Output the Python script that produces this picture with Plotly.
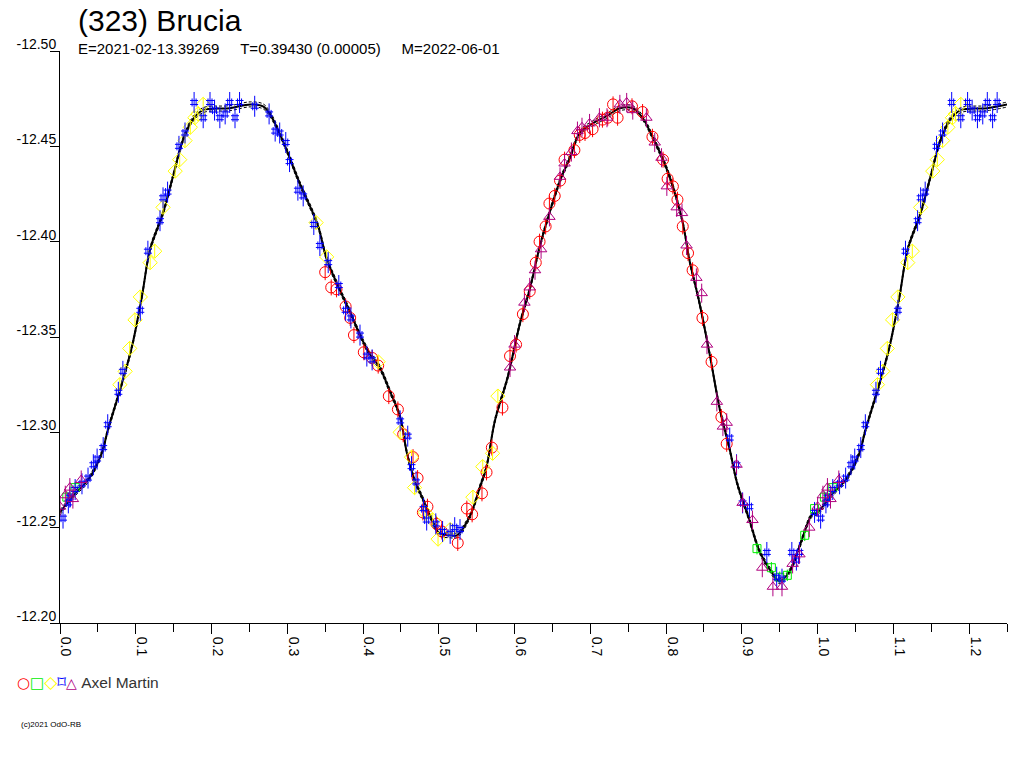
import plotly.graph_objects as go

# ---- data (phase, reduced magnitude) ----
curve_phase = [0.000, 0.020, 0.037, 0.055, 0.063, 0.082, 0.095, 0.108, 0.119, 0.136, 0.149, 0.162,
               0.175, 0.189, 0.224, 0.251, 0.268, 0.277, 0.294, 0.317, 0.340, 0.352, 0.369, 0.383,
               0.396, 0.409, 0.422, 0.435, 0.449, 0.458, 0.468, 0.479, 0.491, 0.501, 0.515, 0.524,
               0.541, 0.554, 0.563, 0.574, 0.591, 0.607, 0.620, 0.633, 0.646, 0.660, 0.673, 0.686,
               0.703, 0.722, 0.739, 0.756, 0.769, 0.782, 0.796, 0.809, 0.822, 0.831, 0.844, 0.858,
               0.871, 0.884, 0.894, 0.910, 0.923, 0.937, 0.950, 0.963, 0.976, 0.993]
curve_mag = [-12.258, -12.268, -12.275, -12.289, -12.301, -12.326, -12.345, -12.371, -12.396, -12.415,
             -12.434, -12.453, -12.464, -12.469, -12.470, -12.472, -12.471, -12.467, -12.453, -12.430,
             -12.409, -12.391, -12.375, -12.363, -12.351, -12.341, -12.334, -12.322, -12.308, -12.289,
             -12.275, -12.265, -12.254, -12.247, -12.246, -12.246, -12.256, -12.271, -12.282, -12.306,
             -12.329, -12.357, -12.375, -12.397, -12.415, -12.432, -12.444, -12.457, -12.462, -12.466,
             -12.470, -12.470, -12.465, -12.455, -12.443, -12.429, -12.410, -12.390, -12.368, -12.340,
             -12.312, -12.291, -12.273, -12.254, -12.238, -12.228, -12.222, -12.227, -12.240, -12.257]
fit_err = 0.0013

red_phase = [0.350, 0.358, 0.365, 0.377, 0.383, 0.388, 0.401, 0.412, 0.420, 0.434, 0.446, 0.453,
             0.466, 0.472, 0.479, 0.485, 0.497, 0.504, 0.525, 0.537, 0.544, 0.557, 0.563, 0.570,
             0.584, 0.594, 0.602, 0.611, 0.620, 0.628, 0.633, 0.641, 0.646, 0.653, 0.660, 0.666,
             0.679, 0.686, 0.693, 0.703, 0.716, 0.723, 0.730, 0.736, 0.755, 0.769, 0.782, 0.796,
             0.802, 0.809, 0.815, 0.822, 0.829, 0.835, 0.848, 0.860, 0.873, 0.880]
red_mag = [-12.384, -12.376, -12.375, -12.366, -12.360, -12.351, -12.342, -12.339, -12.335, -12.319,
           -12.312, -12.299, -12.287, -12.276, -12.258, -12.261, -12.252, -12.248, -12.242, -12.260,
           -12.257, -12.268, -12.279, -12.292, -12.313, -12.340, -12.346, -12.362, -12.374, -12.389,
           -12.400, -12.408, -12.420, -12.424, -12.432, -12.443, -12.448, -12.456, -12.457, -12.459,
           -12.464, -12.465, -12.472, -12.465, -12.471, -12.468, -12.455, -12.443, -12.433, -12.429,
           -12.422, -12.408, -12.394, -12.385, -12.360, -12.337, -12.308, -12.294]

green_phase = [0.009, 0.020, 0.920, 0.939, 0.950, 0.960, 0.983, 0.996]
green_mag = [-12.266, -12.271, -12.239, -12.229, -12.224, -12.225, -12.246, -12.260]

yellow_phase = [0.079, 0.086, 0.092, 0.099, 0.106, 0.119, 0.125, 0.136, 0.152, 0.158, 0.165, 0.172,
                0.178, 0.182, 0.189, 0.338, 0.352, 0.420, 0.449, 0.464, 0.468, 0.482, 0.492, 0.499,
                0.515, 0.545, 0.558, 0.571, 0.578]
yellow_mag = [-12.325, -12.332, -12.344, -12.359, -12.371, -12.389, -12.395, -12.418, -12.437, -12.443,
              -12.453, -12.460, -12.465, -12.467, -12.472, -12.410, -12.392, -12.337, -12.300, -12.287,
              -12.271, -12.258, -12.254, -12.244, -12.249, -12.266, -12.282, -12.289, -12.319]

blue_phase = [0.004, 0.011, 0.013, 0.020, 0.029, 0.037, 0.044, 0.049, 0.057, 0.063, 0.077, 0.083,
              0.106, 0.116, 0.132, 0.136, 0.142, 0.157, 0.165, 0.177, 0.189, 0.198, 0.204, 0.211,
              0.218, 0.224, 0.231, 0.237, 0.257, 0.276, 0.284, 0.290, 0.298, 0.303, 0.314, 0.321,
              0.335, 0.343, 0.354, 0.368, 0.377, 0.384, 0.396, 0.405, 0.412, 0.449, 0.459, 0.464,
              0.470, 0.480, 0.484, 0.496, 0.505, 0.515, 0.521, 0.528, 0.884, 0.893, 0.901, 0.910,
              0.933, 0.946, 0.953, 0.966, 0.972, 0.976, 0.996]
blue_mag = [-12.255, -12.263, -12.266, -12.270, -12.273, -12.276, -12.283, -12.286, -12.292, -12.304,
            -12.321, -12.332, -12.364, -12.395, -12.411, -12.423, -12.426, -12.450, -12.457, -12.473,
            -12.465, -12.473, -12.469, -12.465, -12.467, -12.473, -12.465, -12.473, -12.471, -12.467,
            -12.458, -12.457, -12.452, -12.442, -12.427, -12.424, -12.409, -12.398, -12.389, -12.377,
            -12.364, -12.360, -12.351, -12.340, -12.338, -12.306, -12.298, -12.282, -12.274, -12.260,
            -12.254, -12.252, -12.248, -12.247, -12.250, -12.249, -12.297, -12.283, -12.263, -12.261,
            -12.237, -12.224, -12.223, -12.237, -12.233, -12.237, -12.258]

purple_phase = [0.000, 0.007, 0.013, 0.017, 0.028, 0.594, 0.600, 0.613, 0.620, 0.627, 0.635, 0.646,
                0.660, 0.666, 0.675, 0.683, 0.689, 0.699, 0.712, 0.722, 0.739, 0.748, 0.756, 0.774,
                0.785, 0.794, 0.801, 0.814, 0.821, 0.827, 0.840, 0.847, 0.854, 0.867, 0.875, 0.880,
                0.893, 0.901, 0.914, 0.927, 0.941, 0.953, 0.967, 0.976, 0.989]
purple_mag = [-12.261, -12.267, -12.271, -12.265, -12.275, -12.334, -12.346, -12.368, -12.376, -12.385,
              -12.396, -12.413, -12.434, -12.441, -12.447, -12.458, -12.460, -12.462, -12.465, -12.465,
              -12.472, -12.473, -12.469, -12.465, -12.452, -12.444, -12.429, -12.418, -12.415, -12.398,
              -12.381, -12.373, -12.346, -12.316, -12.303, -12.305, -12.283, -12.263, -12.254, -12.229,
              -12.219, -12.219, -12.231, -12.236, -12.250]

y_ticks = [-12.50, -12.45, -12.40, -12.35, -12.30, -12.25, -12.20]
y_ticktext = ["-12.50", "-12.45", "-12.40", "-12.35", "-12.30", "-12.25", "-12.20"]

title_text = "(323) Brucia"
sub_text = "E=2021-02-13.39269\u00a0\u00a0\u00a0\u00a0\u00a0T=0.39430 (0.00005)\u00a0\u00a0\u00a0\u00a0\u00a0M=2022-06-01"
observer = "Axel Martin"
copyright_text = "(c)2021 OdO-RB"

legend_symbols = ["○", "□", "◇", "⌑", "△"]
legend_colors = ["#FF0000", "#00EE00", "#FFFF00", "#0000FF", "#B0007F"]

WRAP = 0.26  # phases repeated beyond 1.0


def extend(ph, mg):
    xs = list(ph) + [p + 1 for p in ph if p <= WRAP]
    ys = list(mg) + [m for p, m in zip(ph, mg) if p <= WRAP]
    return xs, ys


fig = go.Figure()

cx, cy = extend(curve_phase, curve_mag)
for off in (fit_err, -fit_err):
    fig.add_trace(go.Scatter(x=cx, y=[v + off for v in cy], mode="lines",
                             line=dict(color="black", width=1, dash="3px,2px", shape="spline"),
                             showlegend=False, hoverinfo="skip"))
fig.add_trace(go.Scatter(x=cx, y=cy, mode="lines",
                         line=dict(color="black", width=2, shape="spline"),
                         showlegend=False, hoverinfo="skip"))

series = [
    (red_phase, red_mag, "circle-open", legend_colors[0], 11, 0.0042),
    (green_phase, green_mag, "square-open", legend_colors[1], 8, 0.003),
    (yellow_phase, yellow_mag, "diamond-open", legend_colors[2], 11, 0.0035),
    (blue_phase, blue_mag, "hash-open", legend_colors[3], 8, 0.0055),
    (purple_phase, purple_mag, "triangle-up-open", legend_colors[4], 10, 0.005),
]
for ph, mg, sym, col, sz, err in series:
    xs, ys = extend(ph, mg)
    fig.add_trace(go.Scatter(
        x=xs, y=ys, mode="markers",
        marker=dict(symbol=sym, color=col, size=sz, line=dict(width=1, color=col)),
        error_y=dict(type="constant", value=err, width=0, thickness=1, color=col),
        showlegend=False))

# plot area at page px (60..1007, 51..623); body margin removed in post_script
W, H = 1024, 768
L, T, R, B = 60, 51, 17, 145
PW, PH = W - L - R, H - T - B


def px(xp):
    return (xp - L) / PW


def py(yp):
    return 1 - (yp - T) / PH


font = "Liberation Sans, Arial, sans-serif"
sym_size = [15, 15, 17, 17, 14]
legend_html = "".join(
    f"<span style='color:{c};font-size:{ss}px'>{s}</span>"
    for s, c, ss in zip(legend_symbols, legend_colors, sym_size))
legend_html += f"<span style='font-family:Liberation Sans;font-size:15.5px;color:#333333'>\u00a0{observer}</span>"

annotations = [
    dict(text=title_text, xref="paper", yref="paper", x=px(76), y=py(20),
         xanchor="left", yanchor="middle", showarrow=False, font=dict(size=30, family=font)),
    dict(text=sub_text, xref="paper", yref="paper", x=px(76), y=py(48),
         xanchor="left", yanchor="middle", showarrow=False, font=dict(size=15, family=font)),
    dict(text=legend_html, xref="paper", yref="paper", x=px(15), y=py(682),
         xanchor="left", yanchor="middle", showarrow=False,
         font=dict(size=15, family="DejaVu Sans", color="#333333")),
    dict(text=copyright_text, xref="paper", yref="paper", x=px(19), y=py(724),
         xanchor="left", yanchor="middle", showarrow=False, font=dict(size=8, family=font)),
]

fig.update_layout(
    width=W, height=H,
    margin=dict(l=L, r=R, t=T, b=B, autoexpand=False),
    paper_bgcolor="white", plot_bgcolor="white",
    font=dict(family=font, color="black", size=14),
    xaxis=dict(range=[0, 1.25], tickmode="linear", tick0=0, dtick=0.1, tickformat=".1f",
               ticks="outside", ticklen=10, tickcolor="black", tickwidth=1, automargin=False,
               showline=True, linecolor="black", linewidth=1, showgrid=False, zeroline=False,
               tickangle=90, ticklabelshift=6, tickfont=dict(size=14, family=font),
               minor=dict(tickmode="linear", tick0=0, dtick=0.05, ticks="outside", ticklen=8,
                          tickcolor="black", showgrid=False)),
    yaxis=dict(range=[-12.20, -12.50], tickmode="array", tickvals=y_ticks, ticktext=y_ticktext,
               ticks="outside", ticklen=9, tickcolor="black", tickwidth=1, automargin=False,
               ticklabelstandoff=-9, ticklabelshift=7,
               showline=True, linecolor="black", linewidth=1, showgrid=False, zeroline=False,
               tickfont=dict(size=14, family=font)),
    annotations=annotations,
)

fig.write_html("out.html", config={"displayModeBar": False},
               post_script="document.body.style.margin='0px';document.body.style.overflow='hidden';")
